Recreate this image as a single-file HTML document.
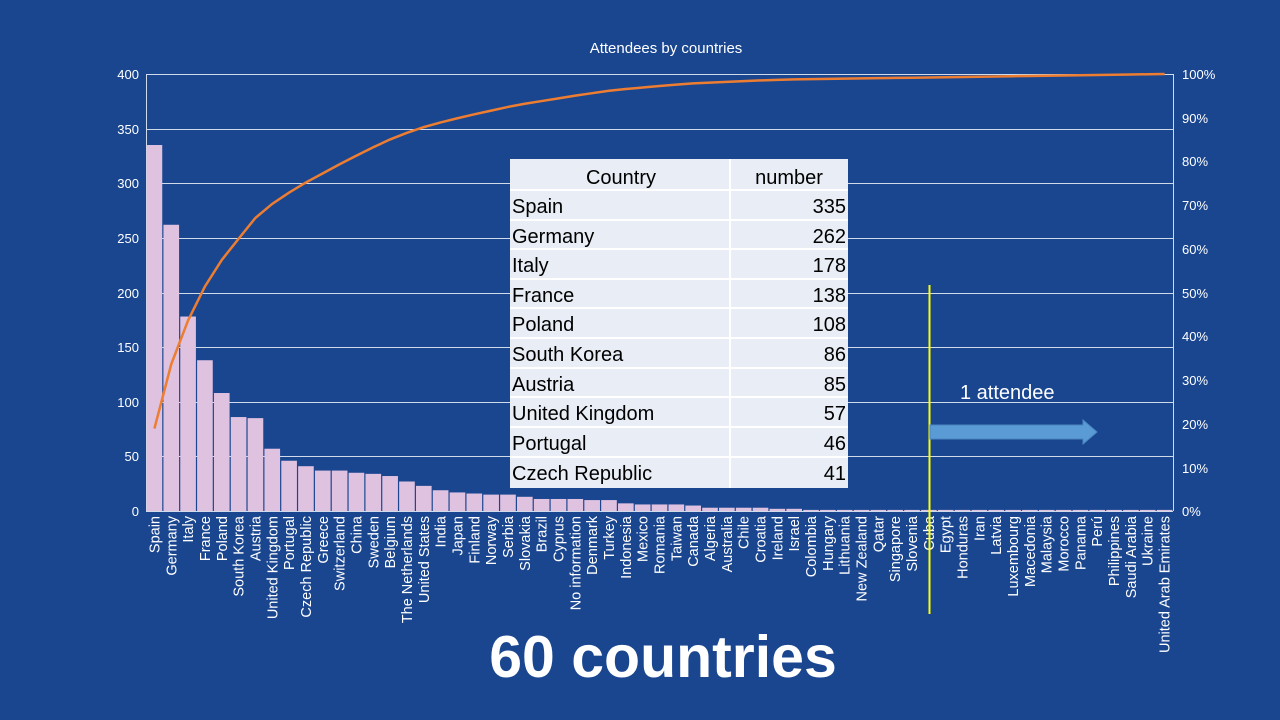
<!DOCTYPE html>
<html><head><meta charset="utf-8"><style>
body{margin:0;background:#1a4690;}
svg{display:block;font-family:"Liberation Sans",sans-serif;}
</style></head><body>
<svg id="s" width="1280" height="720" viewBox="0 0 1280 720">
<rect width="1280" height="720" fill="#1a4690"/>
<text x="666" y="53" fill="#fff" font-size="15" text-anchor="middle">Attendees by countries</text>
<g stroke="#fff" stroke-width="1" opacity="0.8">
<line x1="146" x2="1173" y1="74.5" y2="74.5"/><line x1="146" x2="1173" y1="129.5" y2="129.5"/>
<line x1="146" x2="1173" y1="183.5" y2="183.5"/><line x1="146" x2="1173" y1="238.5" y2="238.5"/>
<line x1="146" x2="1173" y1="293.5" y2="293.5"/><line x1="146" x2="1173" y1="347.5" y2="347.5"/>
<line x1="146" x2="1173" y1="402.5" y2="402.5"/><line x1="146" x2="1173" y1="456.5" y2="456.5"/>
<line x1="146" x2="1173" y1="511.5" y2="511.5"/>
<line x1="146.5" x2="146.5" y1="74" y2="511"/><line x1="1173.5" x2="1173.5" y1="74" y2="511"/>
</g>
<g fill="#fff" font-size="13" text-anchor="end">
<text x="139" y="79">400</text><text x="139" y="134">350</text><text x="139" y="188">300</text>
<text x="139" y="243">250</text><text x="139" y="298">200</text><text x="139" y="352">150</text>
<text x="139" y="407">100</text><text x="139" y="461">50</text><text x="139" y="516">0</text>
</g>
<g fill="#fff" font-size="13">
<text x="1182" y="79">100%</text><text x="1182" y="123">90%</text><text x="1182" y="166">80%</text>
<text x="1182" y="210">70%</text><text x="1182" y="254">60%</text><text x="1182" y="298">50%</text>
<text x="1182" y="341">40%</text><text x="1182" y="385">30%</text><text x="1182" y="429">20%</text>
<text x="1182" y="473">10%</text><text x="1182" y="516">0%</text>
</g>
<g id="bars" fill="#dfc2e0"></g>
<polyline id="cum" fill="none" stroke="#ed7d31" stroke-width="2.5"/>
<g id="labels" fill="#fff" font-size="14.5" text-anchor="end">
<text>Spain</text><text>Germany</text><text>Italy</text><text>France</text><text>Poland</text><text>South Korea</text><text>Austria</text><text>United Kingdom</text><text>Portugal</text><text>Czech Republic</text><text>Greece</text><text>Switzerland</text><text>China</text><text>Sweden</text><text>Belgium</text><text>The Netherlands</text><text>United States</text><text>India</text><text>Japan</text><text>Finland</text><text>Norway</text><text>Serbia</text><text>Slovakia</text><text>Brazil</text><text>Cyprus</text><text>No information</text><text>Denmark</text><text>Turkey</text><text>Indonesia</text><text>Mexico</text><text>Romania</text><text>Taiwan</text><text>Canada</text><text>Algeria</text><text>Australia</text><text>Chile</text><text>Croatia</text><text>Ireland</text><text>Israel</text><text>Colombia</text><text>Hungary</text><text>Lithuania</text><text>New Zealand</text><text>Qatar</text><text>Singapore</text><text>Slovenia</text><text>Cuba</text><text>Egypt</text><text>Honduras</text><text>Iran</text><text>Latvia</text><text>Luxembourg</text><text>Macedonia</text><text>Malaysia</text><text>Morocco</text><text>Panama</text><text>Perú</text><text>Philippines</text><text>Saudi Arabia</text><text>Ukraine</text><text>United Arab Emirates</text>
</g>
<rect x="510" y="159" width="338" height="329" fill="#e9edf5"/>
<g stroke="#fff" stroke-width="2">
<line x1="510" x2="848" y1="190" y2="190"/><line x1="510" x2="848" y1="220" y2="220"/>
<line x1="510" x2="848" y1="249" y2="249"/><line x1="510" x2="848" y1="279" y2="279"/>
<line x1="510" x2="848" y1="308" y2="308"/><line x1="510" x2="848" y1="338" y2="338"/>
<line x1="510" x2="848" y1="368" y2="368"/><line x1="510" x2="848" y1="397" y2="397"/>
<line x1="510" x2="848" y1="427" y2="427"/><line x1="510" x2="848" y1="457" y2="457"/>
<line x1="730" x2="730" y1="159" y2="488"/>
</g>
<g fill="#000" font-size="20">
<text x="621" y="184" text-anchor="middle">Country</text><text x="789" y="184" text-anchor="middle">number</text>
<text x="512" y="213">Spain</text><text x="512" y="243">Germany</text><text x="512" y="272">Italy</text>
<text x="512" y="302">France</text><text x="512" y="331">Poland</text><text x="512" y="361">South Korea</text>
<text x="512" y="391">Austria</text><text x="512" y="420">United Kingdom</text><text x="512" y="450">Portugal</text>
<text x="512" y="480">Czech Republic</text>
</g>
<g fill="#000" font-size="20" text-anchor="end">
<text x="846" y="213">335</text><text x="846" y="243">262</text><text x="846" y="272">178</text>
<text x="846" y="302">138</text><text x="846" y="331">108</text><text x="846" y="361">86</text>
<text x="846" y="391">85</text><text x="846" y="420">57</text><text x="846" y="450">46</text>
<text x="846" y="480">41</text>
</g>
<line x1="929.5" x2="929.5" y1="285" y2="614" stroke="#ffff00" stroke-width="2"/>
<text x="960" y="399" fill="#fff" font-size="20">1 attendee</text>
<polygon points="930,425 1083,425 1083,420 1097,432 1083,444 1083,439 930,439" fill="#5b9bd5" stroke="#4a86c0" stroke-width="1"/>
<text x="663" y="677" fill="#fff" font-size="59" font-weight="bold" text-anchor="middle">60 countries</text>
</svg>
<script>
var v=[335,262,178,138,108,86,85,57,46,41,37,37,35,34,32,27,23,19,17,16,15,15,13,11,11,11,10,10,7,6,6,6,5,3,3,3,3,2,2,1,1,1,1,1,1,1,1,1,1,1,1,1,1,1,1,1,1,1,1,1,1];
var n=v.length,x0=146,x1=1173,w=(x1-x0)/n,y0=511,sc=437/400;
var tot=v.reduce((a,b)=>a+b,0),c=0,pts=[],ns="http://www.w3.org/2000/svg";
var bars=document.getElementById('bars'),labs=document.getElementById('labels').children;
for(var i=0;i<n;i++){
 var h=v[i]*sc,r=document.createElementNS(ns,'rect');
 r.setAttribute('x',x0+i*w+0.6);r.setAttribute('width',w-1.2);
 r.setAttribute('y',y0-h);r.setAttribute('height',h);bars.appendChild(r);
 c+=v[i];var cx=x0+(i+0.5)*w;pts.push(cx+','+(y0-c/tot*437));
 var t=labs[i];t.setAttribute('transform','translate('+(cx+5)+',516) rotate(-90)');
}
document.getElementById('cum').setAttribute('points',pts.join(' '));
</script>
</body></html>
